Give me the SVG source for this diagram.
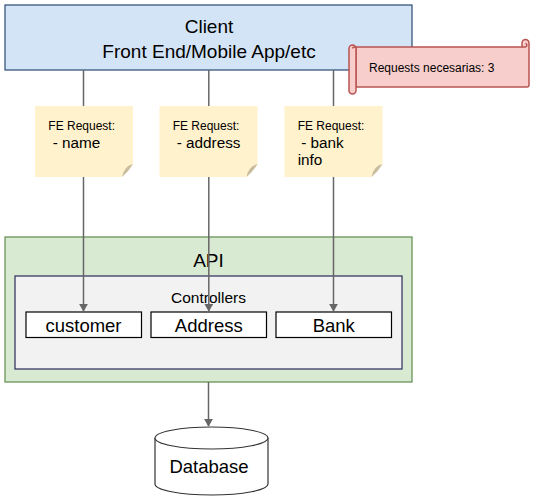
<svg xmlns="http://www.w3.org/2000/svg" width="538" height="499" viewBox="0 0 538 499">
<defs>
<style>
text{font-family:"Liberation Sans",Arial,sans-serif;fill:#000}
.client{fill:#d4e4f7;stroke:#2a4a72;stroke-width:1.2}
.api{fill:#d9ead3;stroke:#5e8c4a;stroke-width:1.2}
.ctrl{fill:#f2f2f2;stroke:#2a2a5a;stroke-width:1.2}
.box{fill:#fff;stroke:#000;stroke-width:1.2}
.note{fill:#fff2cc}
.fold{fill:#c9bd9f}
.edge{fill:none;stroke:#666;stroke-width:1.5}
.scroll{fill:#f8cecc;stroke:#b85450;stroke-width:1.5}
.db{fill:#fff;stroke:#333;stroke-width:1.2}
</style>
<marker id="arr" viewBox="0 0 10 10" refX="9" refY="5" markerWidth="8" markerHeight="9" markerUnits="userSpaceOnUse" orient="auto" preserveAspectRatio="none">
<path d="M0,0 L10,5 L0,10 Z" fill="#666"/>
</marker>
</defs>

<g id="client">
<rect class="client" x="5" y="5" width="407" height="65"/>
<text x="209" y="33" font-size="19" text-anchor="middle">Client</text>
<text x="209" y="58" font-size="19" text-anchor="middle">Front End/Mobile App/etc</text>
</g>

<g id="api">
<rect class="api" x="5" y="237" width="407" height="145"/>
<text x="208.5" y="267" font-size="19" text-anchor="middle">API</text>
</g>

<g id="controllers">
<rect class="ctrl" x="15" y="276" width="387" height="93"/>
<text x="208.5" y="302.5" font-size="15.5" text-anchor="middle">Controllers</text>
</g>

<g id="customer">
<rect class="box" x="26" y="312" width="115.5" height="25.5"/>
<text x="83.5" y="331.5" font-size="18.5" text-anchor="middle">customer</text>
</g>
<g id="address">
<rect class="box" x="151" y="312" width="115.5" height="25.5"/>
<text x="208.8" y="331.5" font-size="18.5" text-anchor="middle">Address</text>
</g>
<g id="bank">
<rect class="box" x="276" y="312" width="115.5" height="25.5"/>
<text x="333.8" y="331.5" font-size="18.5" text-anchor="middle">Bank</text>
</g>

<g id="database">
<path class="db" d="M155,438 A56.5,11 0 0 1 268,438 V484 A56.5,11 0 0 1 155,484 Z"/>
<path class="db" fill="none" d="M155,438 A56.5,11 0 0 0 268,438"/>
<text x="209" y="472.5" font-size="18.5" text-anchor="middle">Database</text>
</g>

<g id="connectors">
<path class="edge" d="M83.5,70 V311" marker-end="url(#arr)"/>
<path class="edge" d="M208.8,70 V311" marker-end="url(#arr)"/>
<path class="edge" d="M333.5,70 V311" marker-end="url(#arr)"/>
<path class="edge" d="M208.5,382 V426" marker-end="url(#arr)"/>
</g>

<g id="note-name">
<path class="note" d="M35,106 H133 V164 Q129,171 122,177 H35 Z"/>
<path class="fold" d="M133,164 Q124,166 122,177 Q129,171 133,164 Z"/>
<text x="48.3" y="130" font-size="12">FE Request:</text>
<text x="48.5" y="147.5" font-size="15.3" xml:space="preserve"> - name</text>
</g>
<g id="note-address">
<path class="note" d="M159.5,106 H257.5 V164 Q253.5,171 246.5,177 H159.5 Z"/>
<path class="fold" d="M257.5,164 Q248.5,166 246.5,177 Q253.5,171 257.5,164 Z"/>
<text x="172.7" y="130" font-size="12">FE Request:</text>
<text x="172.5" y="147.5" font-size="15.3" xml:space="preserve"> - address</text>
</g>
<g id="note-bank">
<path class="note" d="M284.5,106 H382.5 V164 Q378.5,171 371.5,177 H284.5 Z"/>
<path class="fold" d="M382.5,164 Q373.5,166 371.5,177 Q378.5,171 382.5,164 Z"/>
<text x="297.7" y="130" font-size="12">FE Request:</text>
<text x="297" y="147.5" font-size="15.3" xml:space="preserve"> - bank</text>
<text x="297.7" y="165" font-size="15.3">info</text>
</g>

<g id="requests-scroll">
<path class="scroll" d="M356,47 H522 V43 A3.5,3.5 0 0 1 529,43 V85 A2,2 0 0 1 527,87 H356 Z"/>
<path class="scroll" d="M522,47 H525.5 A1.8,1.8 0 0 0 525.5,43.5"/>
<rect class="scroll" x="349" y="45" width="7" height="49" rx="3.5"/>
<path class="scroll" fill="none" d="M352.5,48.5 A1.8,1.8 0 0 1 356,48.5"/>
<text x="369" y="72" font-size="12">Requests necesarias: 3</text>
</g>
</svg>
